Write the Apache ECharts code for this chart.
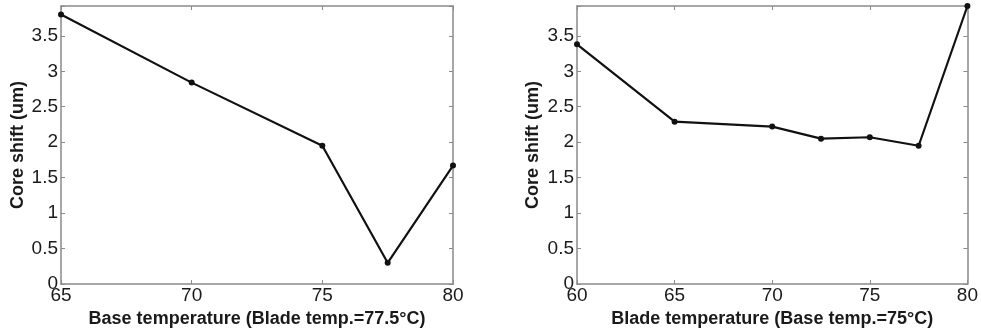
<!DOCTYPE html>
<html>
<head>
<meta charset="utf-8">
<script src="https://cdn.jsdelivr.net/npm/echarts@6/dist/echarts.min.js"></script>
<style>
html, body { margin: 0; padding: 0; background: #fff; }
#main { width: 981px; height: 333px; }
</style>
</head>
<body>
<div id="main"></div>
<script>
// left panel: base temperature sweep
var baseTemp = [65, 70, 75, 77.5, 80];
var shiftBase = [3.8, 2.84, 1.95, 0.3, 1.67];
// right panel: blade temperature sweep
var bladeTemp = [60, 65, 70, 72.5, 75, 77.5, 80];
var shiftBlade = [3.38, 2.29, 2.22, 2.05, 2.07, 1.95, 3.92];
var yMax = 3.92;

var axisColor = '#8a8a8a';
var textColor = '#1a1a1a';
var fontFam = 'Liberation Sans, Arial, sans-serif';

function yLabel(v) {
    if (Math.abs(v * 2 - Math.round(v * 2)) > 1e-6) return '';
    return String(v);
}

function xAx(idx, min, max, name, top) {
    return {
        type: 'value', gridIndex: idx, min: min, max: max, interval: 5,
        position: top ? 'top' : 'bottom',
        name: top ? '' : name,
        nameLocation: 'middle', nameGap: 22,
        nameTextStyle: { color: textColor, fontSize: 18, fontWeight: 'bold', fontFamily: fontFam },
        axisLine: { show: true, onZero: false, lineStyle: { color: axisColor, width: 1.5 } },
        axisTick: { show: true, inside: true, length: 4, lineStyle: { color: axisColor } },
        axisLabel: { show: !top, color: textColor, fontSize: 19, fontFamily: fontFam, margin: 2 },
        splitLine: { show: false }
    };
}

function yAx(idx, right, gap) {
    return {
        type: 'value', gridIndex: idx, min: 0, max: yMax, interval: 0.5,
        position: right ? 'right' : 'left',
        name: right ? '' : 'Core shift (um)',
        nameLocation: 'middle', nameGap: gap,
        nameTextStyle: { color: textColor, fontSize: 18, fontWeight: 'bold', fontFamily: fontFam },
        axisLine: { show: true, onZero: false, lineStyle: { color: axisColor, width: 1.5 } },
        axisTick: { show: true, inside: true, length: 4, lineStyle: { color: axisColor } },
        axisLabel: { show: !right, color: textColor, fontSize: 19, fontFamily: fontFam, margin: 3, formatter: yLabel },
        splitLine: { show: false }
    };
}

function pairs(xs, ys) {
    return xs.map(function (x, i) { return [x, ys[i]]; });
}

var myChart = echarts.init(document.getElementById('main'));
var option = {
    animation: false,
    backgroundColor: '#fff',
    grid: [
        { left: 61, top: 6, width: 392, height: 281 },
        { left: 577, top: 6, width: 392, height: 281 }
    ],
    xAxis: [
        xAx(0, 65, 80, 'Base temperature (Blade temp.=77.5°C)', false),
        xAx(0, 65, 80, '', true),
        xAx(1, 60, 80, 'Blade temperature (Base temp.=75°C)', false),
        xAx(1, 60, 80, '', true)
    ],
    yAxis: [yAx(0, false, 34), yAx(0, true, 0), yAx(1, false, 35), yAx(1, true, 0)],
    series: [
        {
            type: 'line', xAxisIndex: 0, yAxisIndex: 0,
            data: pairs(baseTemp, shiftBase),
            symbol: 'circle', symbolSize: 6,
            lineStyle: { color: '#111', width: 2.2 },
            itemStyle: { color: '#111' }
        },
        {
            type: 'line', xAxisIndex: 2, yAxisIndex: 2,
            data: pairs(bladeTemp, shiftBlade),
            symbol: 'circle', symbolSize: 6,
            lineStyle: { color: '#111', width: 2.2 },
            itemStyle: { color: '#111' }
        }
    ]
};
myChart.setOption(option);
</script>
</body>
</html>
